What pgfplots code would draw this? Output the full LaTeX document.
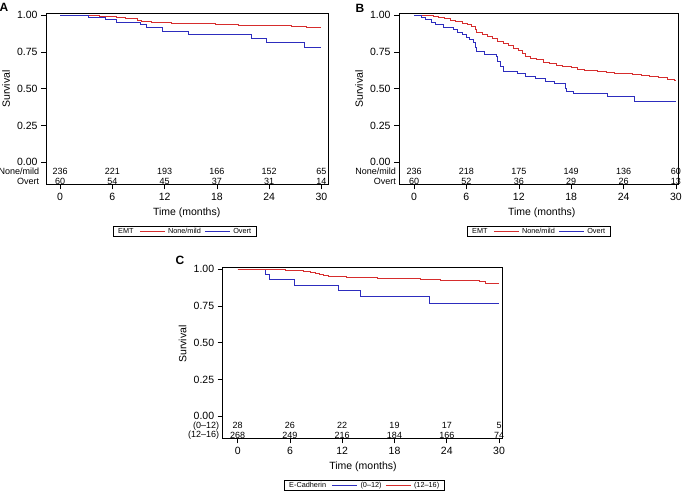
\documentclass[border=0pt]{standalone}
\usepackage{fontspec}
\setmainfont{Liberation Sans}
\usepackage{pgfplots}
\pgfplotsset{compat=1.18}
\definecolor{kmred}{RGB}{214,45,45}
\definecolor{kmblue}{RGB}{45,45,190}
\tikzset{risk/.style={font=\fontsize{9}{10}\selectfont, inner sep=0pt},
  legtext/.style={anchor=base west, inner sep=0pt, font=\fontsize{7.3}{8}\selectfont}}
\newcommand{\kmlegend}[7]{%
  \node[legtext] (lg1) at (#1,#2) {#3};
  \draw[draw=#4, line width=0.9pt] ([xshift=6pt,yshift=2.2pt]lg1.base east) -- ++(25pt,0pt) coordinate (lg2);
  \node[legtext] (lg3) at ([xshift=3pt,yshift=-2.2pt]lg2) {#5};
  \draw[draw=#6, line width=0.9pt] ([xshift=4pt,yshift=2.2pt]lg3.base east) -- ++(25pt,0pt) coordinate (lg4);
  \node[legtext] (lg5) at ([xshift=3pt,yshift=-2.2pt]lg4) {#7};
  \draw[draw=black, line width=0.6pt] ([xshift=-5pt,yshift=-3.3pt]lg1.base west) rectangle ([xshift=5pt,yshift=7pt]lg5.base east);
}
\pgfplotsset{
  km/.style={
    scale only axis, anchor=south west, clip=false,
    axis line style={black, line width=0.8pt},
    tick align=outside, tick pos=left,
    major tick length=5pt,
    tick style={black, line width=0.6pt},
    xtick={0,6,12,18,24,30},
    ytick={0,0.25,0.5,0.75,1},
    /pgf/number format/assume math mode=true,
    ticklabel style={font=\fontsize{10.5}{12}\selectfont},
    yticklabel style={/pgf/number format/fixed, /pgf/number format/fixed zerofill, /pgf/number format/precision=2},
  },
  kmr/.style={const plot, mark=none, line width=0.9pt, draw=kmred, color=kmred},
  kmb/.style={const plot, mark=none, line width=0.9pt, draw=kmblue, color=kmblue},
}
\begin{document}
\begin{tikzpicture}
\useasboundingbox (0pt,0pt) rectangle (685pt,-492pt);
% ---------------- Panel A ----------------
\begin{axis}[km, at={(46pt,-184.3pt)}, width=282pt, height=171pt,
  xmin=-1.61, xmax=30.75, ymin=-0.149, ymax=1.0115]
\addplot[kmr] coordinates {
(0,1.000) (3.3,0.996) (4.5,0.992) (5.5,0.988) (6.5,0.983) (7.5,0.979) (8.3,0.975)
(8.9,0.966) (9.3,0.958) (9.8,0.953) (10.5,0.948) (12.8,0.945) (14.3,0.940) (17.8,0.936)
(20.5,0.932) (23.0,0.928) (26.5,0.924) (27.8,0.920) (28.3,0.915) (30,0.915)};
\addplot[kmb] coordinates {
(0,1.000) (3.3,0.983) (5.2,0.967) (6.5,0.950) (9.2,0.933) (9.9,0.915) (11.7,0.889)
(14.75,0.866) (22.0,0.839) (23.7,0.815) (28.0,0.781) (30,0.781)};
\node[risk] at (axis cs:0,-0.061) {236};
\node[risk] at (axis cs:6,-0.061) {221};
\node[risk] at (axis cs:12,-0.061) {193};
\node[risk] at (axis cs:18,-0.061) {166};
\node[risk] at (axis cs:24,-0.061) {152};
\node[risk] at (axis cs:30,-0.061) {65};
\node[risk] at (axis cs:0,-0.127) {60};
\node[risk] at (axis cs:6,-0.127) {54};
\node[risk] at (axis cs:12,-0.127) {45};
\node[risk] at (axis cs:18,-0.127) {37};
\node[risk] at (axis cs:24,-0.127) {31};
\node[risk] at (axis cs:30,-0.127) {14};
\end{axis}
\node[risk, anchor=east] at (39.3pt,-171.3pt) {None/mild};
\node[risk, anchor=east] at (39.3pt,-181pt) {Overt};
\node[font=\fontsize{10.5}{12}\selectfont] at (186.7pt,-212.3pt) {Time (months)};
\node[font=\fontsize{10.5}{12}\selectfont, rotate=90] at (6pt,-89pt) {Survival};
\node[font=\bfseries\fontsize{12}{14}\selectfont] at (4pt,-7.5pt) {A};
% ---------------- Panel B ----------------
\begin{axis}[km, at={(399pt,-184.3pt)}, width=279pt, height=171pt,
  xmin=-1.72, xmax=30.23, ymin=-0.149, ymax=1.0115]
\addplot[kmr] coordinates {
(0,1.000) (1.0,0.998) (1.6,0.995) (2.2,0.990) (2.8,0.983) (3.5,0.975) (4.2,0.966)
(4.8,0.958) (5.5,0.946) (6.1,0.935) (6.6,0.923) (7.0,0.900) (7.2,0.880) (7.8,0.870)
(8.4,0.855) (9.0,0.840) (9.6,0.822) (10.2,0.805) (10.8,0.790) (11.4,0.775) (12.0,0.757)
(12.4,0.740) (12.8,0.720) (13.3,0.705) (14.0,0.695) (14.8,0.680) (15.5,0.670) (16.3,0.660)
(17.0,0.652) (18.0,0.645) (18.7,0.632) (19.5,0.627) (20.2,0.622) (21.0,0.617) (22.0,0.611)
(23.0,0.606) (24.0,0.601) (25.0,0.596) (26.0,0.590) (27.0,0.582) (28.0,0.573) (29.0,0.563)
(29.8,0.556) (30,0.556)};
\addplot[kmb] coordinates {
(0,1.000) (0.8,0.983) (1.3,0.967) (2.0,0.950) (2.5,0.933) (3.4,0.917) (4.5,0.900)
(5.0,0.883) (5.5,0.867) (6.0,0.850) (6.4,0.833) (6.8,0.817) (7.0,0.783) (7.2,0.750)
(8.1,0.733) (9.4,0.717) (9.6,0.683) (9.9,0.650) (10.2,0.617) (11.9,0.600) (12.8,0.583)
(13.9,0.567) (15.0,0.550) (16.1,0.533) (17.3,0.500) (17.5,0.483) (18.3,0.467)
(22.1,0.448) (25.2,0.413) (30,0.413)};
\node[risk] at (axis cs:0,-0.061) {236};
\node[risk] at (axis cs:6,-0.061) {218};
\node[risk] at (axis cs:12,-0.061) {175};
\node[risk] at (axis cs:18,-0.061) {149};
\node[risk] at (axis cs:24,-0.061) {136};
\node[risk] at (axis cs:30,-0.061) {60};
\node[risk] at (axis cs:0,-0.127) {60};
\node[risk] at (axis cs:6,-0.127) {52};
\node[risk] at (axis cs:12,-0.127) {36};
\node[risk] at (axis cs:18,-0.127) {29};
\node[risk] at (axis cs:24,-0.127) {26};
\node[risk] at (axis cs:30,-0.127) {13};
\end{axis}
\node[risk, anchor=east] at (396pt,-171.3pt) {None/mild};
\node[risk, anchor=east] at (396pt,-181pt) {Overt};
\node[font=\fontsize{10.5}{12}\selectfont] at (541.7pt,-212.3pt) {Time (months)};
\node[font=\fontsize{10.5}{12}\selectfont, rotate=90] at (359pt,-89pt) {Survival};
\node[font=\bfseries\fontsize{12}{14}\selectfont] at (360pt,-8.3pt) {B};
% ---------------- Panel C ----------------
\begin{axis}[km, at={(222.7pt,-438.3pt)}, width=279.3pt, height=171pt,
  xmin=-1.72, xmax=30.34, ymin=-0.149, ymax=1.0115]
\addplot[kmb] coordinates {
(0,1.000) (3.13,0.966) (3.6,0.928) (6.46,0.891) (11.6,0.853) (14.1,0.812) (21.96,0.766) (30,0.766)};
\addplot[kmr] coordinates {
(0,1.000) (4.0,0.996) (5.5,0.992) (6.5,0.988) (7.5,0.983) (8.3,0.978) (8.9,0.970)
(9.4,0.962) (9.9,0.953) (10.4,0.948) (12.5,0.945) (14.6,0.941) (16.0,0.937) (18.5,0.933)
(21.0,0.929) (23.3,0.924) (25.0,0.920) (27.8,0.914) (28.4,0.903) (30,0.903)};
\node[risk] at (axis cs:0,-0.062) {28};
\node[risk] at (axis cs:6,-0.062) {26};
\node[risk] at (axis cs:12,-0.062) {22};
\node[risk] at (axis cs:18,-0.062) {19};
\node[risk] at (axis cs:24,-0.062) {17};
\node[risk] at (axis cs:30,-0.062) {5};
\node[risk] at (axis cs:0,-0.127) {268};
\node[risk] at (axis cs:6,-0.127) {249};
\node[risk] at (axis cs:12,-0.127) {216};
\node[risk] at (axis cs:18,-0.127) {184};
\node[risk] at (axis cs:24,-0.127) {166};
\node[risk] at (axis cs:30,-0.127) {74};
\end{axis}
\node[risk, anchor=east] at (219.3pt,-426pt) {(0–12)};
\node[risk, anchor=east] at (219.3pt,-435.6pt) {(12–16)};
\node[font=\fontsize{10.5}{12}\selectfont] at (363pt,-466.5pt) {Time (months)};
\node[font=\fontsize{10.5}{12}\selectfont, rotate=90] at (182.5pt,-344pt) {Survival};
\node[font=\bfseries\fontsize{12}{14}\selectfont] at (180pt,-260pt) {C};
% ---------------- Legends ----------------
\kmlegend{118pt}{-233.4pt}{EMT}{kmred}{None/mild}{kmblue}{Overt}
\kmlegend{472pt}{-233.4pt}{EMT}{kmred}{None/mild}{kmblue}{Overt}
\kmlegend{289pt}{-487.4pt}{E-Cadherin}{kmblue}{(0–12)}{kmred}{(12–16)}
\end{tikzpicture}
\end{document}
